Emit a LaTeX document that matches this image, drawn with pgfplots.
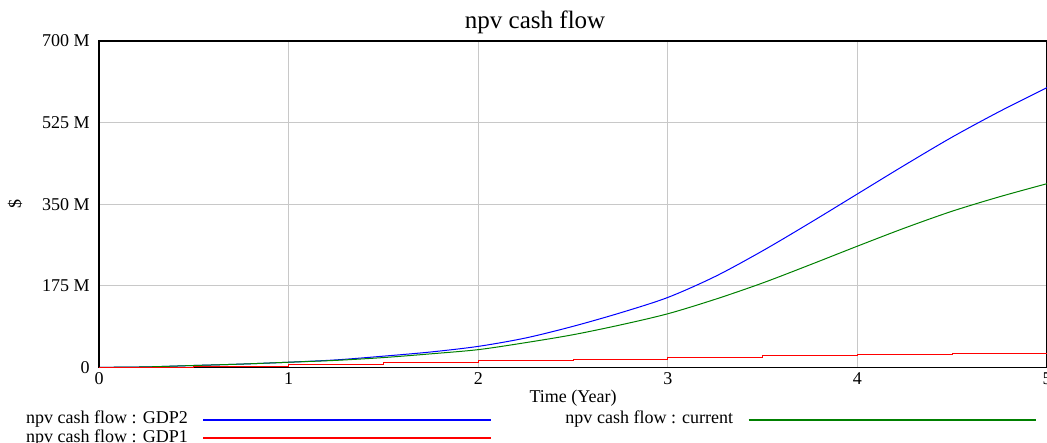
\documentclass[border=0pt]{standalone}
\usepackage{fontspec}
\setmainfont{Liberation Serif}
\usepackage{pgfplots}
\pgfplotsset{compat=1.18}
\definecolor{vgreen}{RGB}{0,128,0}
\definecolor{gridgray}{RGB}{200,200,200}
\begin{document}
\begin{tikzpicture}
\begin{axis}[
  name=ax,
  scale only axis,
  width=947pt, height=326pt,
  xmin=0, xmax=5, ymin=0, ymax=700,
  xtick={0,1,2,3,4,5},
  ytick={0,175,350,525,700},
  yticklabels={0,175 M,350 M,525 M,700 M},
  major tick length=0pt,
  /pgf/number format/assume math mode=true,
  ticklabel style={font=\fontsize{18}{21}\selectfont},
  xticklabel style={yshift=-2pt},
  yticklabel style={xshift=-6pt},
  grid=major,
  grid style={gridgray, line width=1pt},
  axis line style={black, line width=1.5pt},
  title={npv cash flow},
  title style={font=\fontsize{25}{30}\selectfont, at={(rel axis cs:0.46,1.04)}, anchor=center},
  xlabel={Time (Year)},
  xlabel style={font=\fontsize{18}{21}\selectfont, at={(rel axis cs:0.5,-0.095)}, anchor=center},
  ylabel={\$},
  ylabel style={font=\fontsize{18}{21}\selectfont, at={(rel axis cs:-0.0887,0.5)}, anchor=center},
  legend columns=2,
  legend plot pos=right,
  legend image code/.code={\draw[#1, line width=1.3pt] (0pt,0pt) -- (287pt,0pt);},
  legend style={
    at={(rel axis cs:-0.0803,-0.13)}, anchor=north west,
    draw=none, fill=none,
    font=\fontsize{18}{21}\selectfont,
    nodes={inner sep=0pt, text height=12pt, text depth=4pt},
    row sep=2pt,
    column sep=15pt,
    /tikz/every even column/.append style={column sep=74pt},
  },
]
\addplot[blue, line width=1pt, smooth] coordinates {
(0,0) (0.25,1) (0.5,4) (0.75,7) (1,11) (1.25,16) (1.5,24) (1.75,33) (2,45) (2.25,63) (2.5,88) (2.75,117) (3,150) (3.25,195) (3.5,250) (3.75,310) (4,372) (4.25,434) (4.5,494) (4.75,549) (5,600)
};
\addlegendentry{npv cash flow : GDP2}
\addplot[vgreen, line width=1pt, smooth] coordinates {
(0,0) (0.25,1) (0.5,4) (0.75,7) (1,11) (1.25,15) (1.5,21) (1.75,29) (2,38) (2.25,53) (2.5,70) (2.75,91) (3,115) (3.25,146) (3.5,181) (3.75,220) (4,260) (4.25,299) (4.5,335) (4.75,366) (5,394)
};
\addlegendentry{npv cash flow : current}
\addplot[red, line width=1pt, const plot] coordinates {
(0,0) (0.5,2) (1,7) (1.5,11) (2,14) (2.5,17) (3,22) (3.5,25) (4,27) (4.5,29) (5,31)
};
\addlegendentry{npv cash flow : GDP1}
\end{axis}
\pgfresetboundingbox
\path ([xshift=-99pt,yshift=-75pt]ax.south west) rectangle ([yshift=41pt]ax.north east);
\end{tikzpicture}
\end{document}
